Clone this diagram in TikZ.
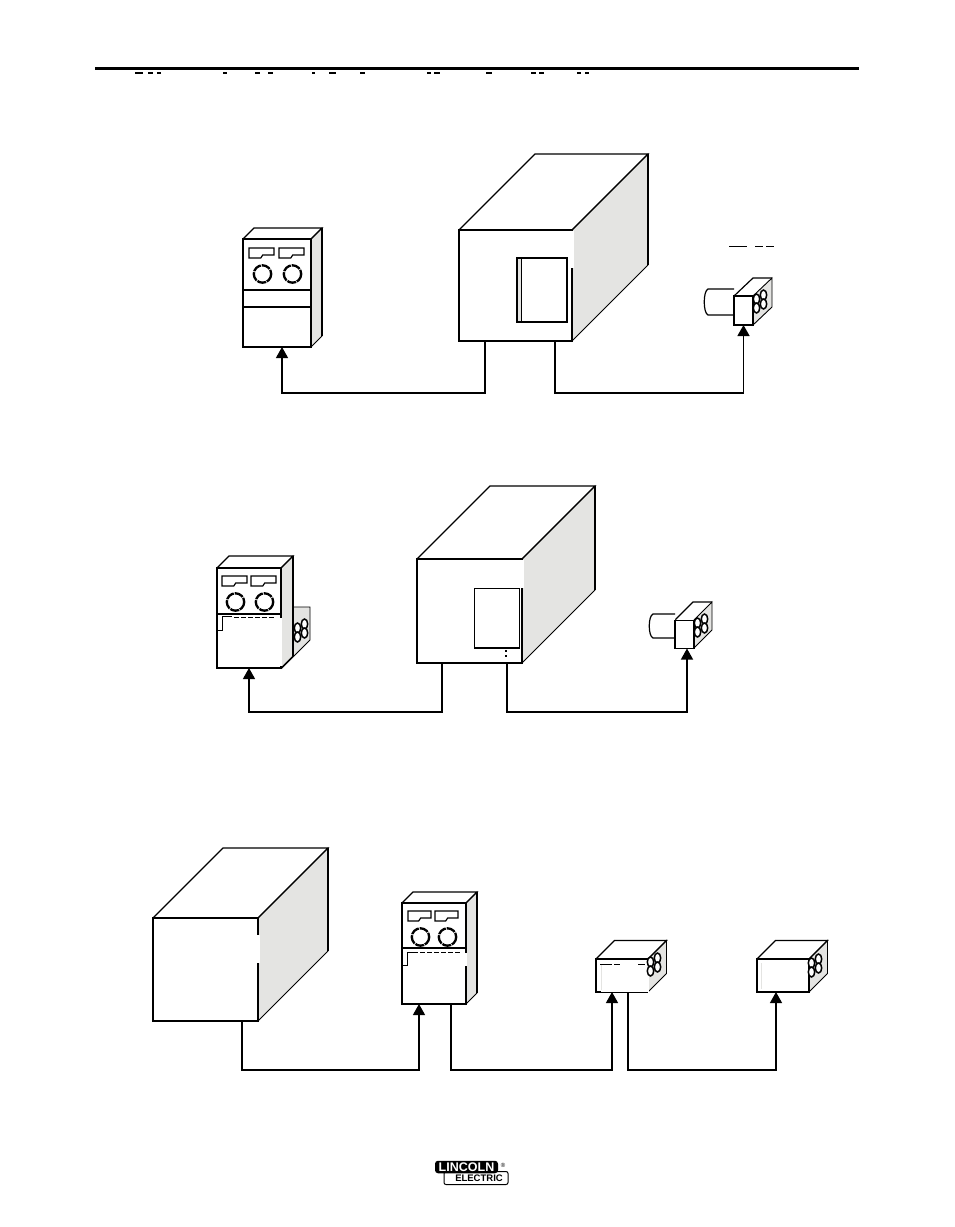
\documentclass[tikz,border=0pt]{standalone}
\usepackage{fontspec}
\setsansfont{Liberation Sans}
\usepackage{xcolor}
\usetikzlibrary{arrows.meta}
\definecolor{sidegray}{HTML}{E4E4E2}
\tikzset{
    boxedge/.style={black, line width=1.2pt, line join=miter},
    boxside/.style={black, line width=0.9pt, fill=sidegray},
    boxface/.style={boxedge, fill=white, draw, inner sep=0pt, outer sep=0pt},
    wire/.style={black, line width=1.3pt, >={Triangle[length=11pt, width=12pt]}},
    fanblade/.style={black, line width=1.5pt, fill=white},
    residue/.style={black, line width=1pt}
}
% box: name, left, top, right, bottom, depth
\newcommand{\cuboid}[6]{%
    \draw[boxside] (#4,#3) -- ({#4+#6},{#3-#6}) -- ({#4+#6},{#5-#6}) -- (#4,#5) -- cycle;
    \draw[boxedge] (#2,#3) -- ({#2+#6},{#3-#6}) -- ({#4+#6},{#3-#6}) -- (#4,#3);
    \draw[boxedge, line width=1.5pt] ({#4+#6},{#3-#6}) -- ({#4+#6},{#5-#6});
    \node[boxface, minimum width={(#4-#2)*1pt}, minimum height={(#5-#3)*1pt}] (#1) at ({(#2+#4)/2},{(#3+#5)/2}) {};
}
% two meters and two dials: left, top of the meters, width of a meter, gap
\newcommand{\dials}[4]{%
    \foreach \k in {0,1} {
        \draw[line width=1.2pt] ({#1+\k*(#3+#4)},#2) -- ++(#3,0) -- ++(0,7) -- ++({-0.45*#3},0) -- ++(-2,3) -- ({#1+\k*(#3+#4)},{#2+10}) -- cycle;
        \draw[line width=2.3pt, dash pattern=on 9pt off 1pt] ({#1+#3/2+1+\k*(#3+#4)},{#2+26}) circle (8.7);
    }
}
% fan grille
\newcommand{\fans}[2]{%
    \foreach \a/\b in {-3.5/-3, 3.5/-7, -3.5/6, 3.5/2}
        \draw[fanblade] ({#1+\a},{#2+\b}) ellipse (3.2 and 5);
}
\begin{document}
\begin{tikzpicture}[x=1pt, y=-1pt]
    \useasboundingbox (0,0) rectangle (954,1227);
    \fill[white] (0,0) rectangle (954,1227);
    % rule and what is left of the heading
    \draw[line width=3pt] (95,68) -- (859,68);
    \foreach \a/\b in {135/143, 148/153, 157/161, 223/227, 255/260, 268/273, 312/315, 329/336, 360/365, 427/431, 434/440, 486/492, 531/536, 539/544, 577/581, 585/589}
        \fill (\a,72) rectangle (\b,74);

    % first row
    \cuboid{controlA}{243}{239}{311}{347}{11}
    \draw[boxedge] (controlA.west |- 0,290) -- (controlA.east |- 0,290);
    \draw[boxedge] (controlA.west |- 0,307) -- (controlA.east |- 0,307);
    \dials{249}{248}{25}{5}
    \cuboid{sourceA}{459}{230}{572}{341}{76}
    \fill[white] (571,231) rectangle (573.5,268);
    \node[boxface, line width=1.5pt, minimum width=50pt, minimum height=64pt] (windowA) at (542,290) {};
    \fill[sidegray] (518,259) rectangle (521,321);
    \draw[black, line width=1pt] (521,259) -- (521,321);
    \draw[boxside] (753,296) -- (772,278) -- (772,307) -- (753,325) -- cycle;
    \draw[boxedge] (734,296) -- (753,278) -- (772,278);
    \draw[boxedge, fill=white] (734,289) -- (708,289) .. controls (703,291) and (703,313) .. (708,315) -- (734,315);
    \node[boxface, minimum width=19pt, minimum height=29pt] (motorA) at (743.5,310.5) {};
    \fans{760}{302}
    \foreach \a/\b in {729/747, 755/763, 766/774}
        \draw[residue] (\a,246) -- (\b,246);
    \draw[wire, ->] ([xshift=26pt]sourceA.south west) -- ++(0,52) -| ([xshift=39pt]controlA.south west);
    \draw[wire, ->] ([xshift=96pt]sourceA.south west) -- ++(0,52) -| (motorA.south);

    % second row
    \draw[boxside] (282,607) -- (310,607) -- (310,640) -- (282,668) -- cycle;
    \fans{301}{631}
    \cuboid{controlB}{217}{568}{281}{668}{12}
    \draw[boxedge] (controlB.west |- 0,614) -- (controlB.east |- 0,614);
    \dials{222}{576}{25}{4}
    \fill[white] (223,618) rectangle (282,666);
    \draw[residue] (217,630) -- (222,630) -- (222,616) -- (232,616);
    \draw[residue, dash pattern=on 5pt off 2pt] (234,617) -- (275,617);
    \cuboid{sourceB}{417}{559}{522}{663}{73}
    \fill[white] (521,560) rectangle (524,588);
    \node[boxface, line width=1pt, minimum width=45pt, minimum height=60pt] (windowB) at (496.5,618) {};
    \draw[line width=1.5pt] (windowB.south west) -- (windowB.south east);
    \fill (505.2,649.5) rectangle (507,652);
    \fill (505.2,655) rectangle (507,657);
    \draw[boxside] (694,620) -- (712,602) -- (712,630) -- (694,648) -- cycle;
    \draw[boxedge] (675,620) -- (693,602) -- (712,602);
    \draw[boxedge, fill=white] (675,614) -- (653,614) .. controls (648,616) and (648,636) .. (653,638) -- (675,638);
    \node[boxface, minimum width=19pt, minimum height=28pt] (motorB) at (684.5,634.5) {};
    \fans{701}{626}
    \draw[wire, ->] ([xshift=25pt]sourceB.south west) -- ++(0,49) -| ([xshift=32pt]controlB.south west);
    \draw[wire, ->] ([xshift=90pt]sourceB.south west) -- ++(0,49) -| ([xshift=12pt]motorB.south west);

    % third row
    \cuboid{sourceC}{153}{918}{258}{1021}{70}
    \fill[white] (257,935) rectangle (260,963);
    \cuboid{controlC}{402}{903}{466}{1004}{11}
    \draw[boxedge] (controlC.west |- 0,948) -- (controlC.east |- 0,948);
    \dials{408}{911}{23}{4}
    \fill[white] (408,953) rectangle (467,966);
    \draw[residue] (402,965) -- (407,965) -- (407,952) -- (418,952);
    \draw[residue, dash pattern=on 5pt off 2pt] (420,952) -- (460,952);
    \cuboid{feederA}{596}{959}{648}{992}{18.5}
    \fill[white] (601,965) rectangle (649,993);
    \draw[sidegray, line width=1pt] (601.5,965) -- (601.5,990);
    \draw[residue] (600,964) -- (612,964);
    \draw[residue] (614,964) -- (620,964);
    \draw[residue] (638,964) -- (645,964);
    \draw[black, line width=.5pt] (601,992) -- (648,992);
    \fans{654}{965}
    \cuboid{feederB}{757}{959}{809}{992}{18.5}
    \draw[sidegray, line width=1pt] (761,963) -- (761,989);
    \fans{815}{966}
    \draw[wire, ->] ([xshift=89pt]sourceC.south west) -- ++(0,49) -| ([xshift=17pt]controlC.south west);
    \draw[wire, ->] ([xshift=49pt]controlC.south west) -- ++(0,66) -| ([xshift=16pt]feederA.south west);
    \draw[wire, ->] ([xshift=32pt]feederA.south west) -- ++(0,78) -| ([xshift=19pt]feederB.south west);

    % logo
    \node[draw=black, line width=1pt, fill=white, rounded corners=2pt, minimum width=64pt, minimum height=13pt, inner sep=0pt,
        font=\sffamily\bfseries\fontsize{9.5}{9.5}\selectfont] (logoB) at (476,1178) {\hspace{6pt}ELECTRIC};
    \node[fill=black, text=white, rounded corners=3pt, minimum width=63pt, minimum height=12.5pt, inner sep=0pt,
        font=\sffamily\bfseries\fontsize{12.5}{12.5}\selectfont] (logoA) at (466.5,1167) {LINCOLN};
    \node[inner sep=0pt, font=\sffamily\fontsize{6}{6}\selectfont] (logoR) at (503,1165) {\textregistered};
\end{tikzpicture}
\end{document}
